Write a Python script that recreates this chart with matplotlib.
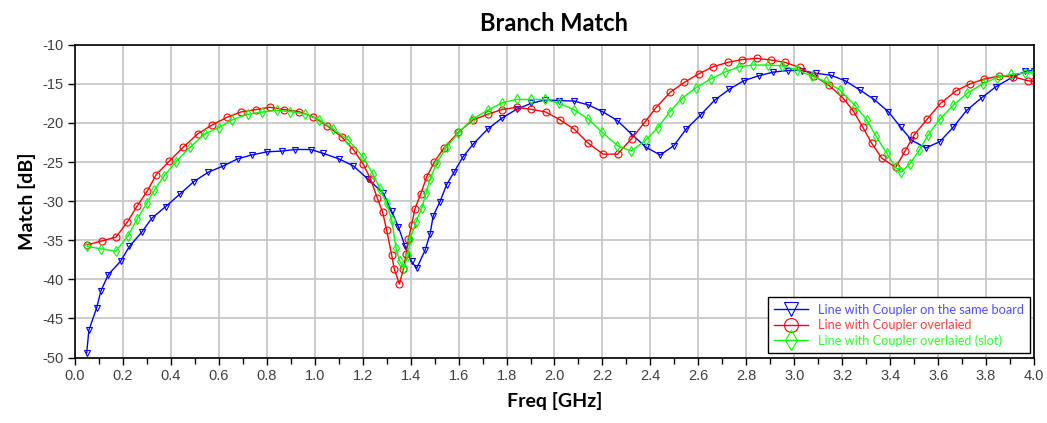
import numpy as np
import matplotlib
matplotlib.use("Agg")
from matplotlib import pyplot as plt
from matplotlib.ticker import MultipleLocator

plt.rcParams["axes.unicode_minus"] = False

# Freq [GHz] / Match [dB]
blue_f = [0.049, 0.058, 0.09, 0.108, 0.139, 0.19, 0.227, 0.278, 0.32, 0.378, 0.438, 0.496,
          0.556, 0.619, 0.678, 0.737, 0.8, 0.862, 0.918, 0.983, 1.036, 1.101, 1.161, 1.223,
          1.286, 1.321, 1.349, 1.377, 1.404, 1.425, 1.46, 1.481, 1.494, 1.522, 1.55, 1.581,
          1.617, 1.661, 1.721, 1.78, 1.842, 1.902, 1.961, 2.02, 2.081, 2.141, 2.2, 2.262,
          2.322, 2.381, 2.441, 2.498, 2.549, 2.609, 2.669, 2.729, 2.79, 2.853, 2.913, 2.973,
          3.031, 3.091, 3.152, 3.212, 3.274, 3.333, 3.392, 3.444, 3.489, 3.549, 3.607, 3.663,
          3.719, 3.781, 3.84, 3.907, 3.963, 4.0]
blue_db = [-49.4, -46.5, -43.7, -41.5, -39.4, -37.7, -35.8, -34.0, -32.2, -30.7, -29.1, -27.5,
           -26.3, -25.5, -24.6, -24.1, -23.7, -23.6, -23.4, -23.4, -23.9, -24.6, -25.5, -27.2,
           -29.0, -31.3, -33.3, -35.8, -37.7, -38.6, -36.3, -34.2, -31.9, -30.1, -27.9, -26.3,
           -24.4, -22.7, -20.8, -19.4, -18.26, -17.5, -17.06, -17.15, -17.2, -17.7, -18.55, -19.7,
           -21.45, -23.1, -24.1, -22.9, -20.8, -19.0, -17.06, -15.7, -14.6, -13.96, -13.5, -13.3,
           -13.3, -13.66, -13.9, -14.6, -15.8, -17.0, -18.55, -20.55, -22.2, -23.2, -22.4, -20.55,
           -18.4, -16.8, -15.4, -14.2, -13.4, -13.3]

red_f = [0.051, 0.111, 0.171, 0.218, 0.26, 0.302, 0.339, 0.393, 0.452, 0.512, 0.57, 0.633,
         0.692, 0.754, 0.813, 0.872, 0.934, 0.992, 1.053, 1.113, 1.161, 1.203, 1.233, 1.261,
         1.283, 1.3, 1.321, 1.332, 1.353, 1.37, 1.381, 1.391, 1.404, 1.418, 1.442, 1.467,
         1.499, 1.539, 1.599, 1.661, 1.721, 1.78, 1.842, 1.902, 1.963, 2.023, 2.082, 2.141,
         2.203, 2.263, 2.322, 2.377, 2.422, 2.482, 2.542, 2.603, 2.663, 2.723, 2.784, 2.844,
         2.904, 2.962, 3.022, 3.083, 3.143, 3.203, 3.247, 3.286, 3.323, 3.365, 3.423, 3.462,
         3.501, 3.555, 3.61, 3.675, 3.733, 3.792, 3.854, 3.914, 3.974, 4.0]
red_db = [-35.6, -35.1, -34.6, -32.7, -30.6, -28.7, -26.6, -24.9, -23.1, -21.4, -20.3, -19.3,
          -18.6, -18.3, -18.0, -18.3, -18.55, -19.2, -20.4, -21.8, -23.4, -25.3, -27.2, -29.6,
          -31.4, -33.7, -36.9, -38.7, -40.6, -38.7, -36.7, -34.9, -33.0, -31.0, -29.1, -26.9,
          -25.0, -23.2, -21.2, -19.6, -18.9, -18.3, -18.0, -18.26, -18.6, -19.6, -20.8, -22.6,
          -24.0, -24.0, -22.0, -19.9, -18.1, -16.1, -14.8, -13.7, -12.8, -12.26, -11.9, -11.74,
          -11.96, -12.26, -12.9, -14.0, -15.15, -16.8, -18.5, -20.55, -22.6, -24.5, -25.7, -23.6,
          -21.5, -19.5, -17.5, -15.9, -15.0, -14.4, -14.0, -14.1, -14.6, -14.7]

green_f = [0.051, 0.108, 0.17, 0.22, 0.259, 0.299, 0.331, 0.371, 0.42, 0.48, 0.542, 0.6,
           0.656, 0.72, 0.781, 0.841, 0.897, 0.96, 1.019, 1.078, 1.14, 1.2, 1.242, 1.272,
           1.3, 1.321, 1.339, 1.355, 1.372, 1.39, 1.397, 1.422, 1.446, 1.464, 1.481, 1.509,
           1.55, 1.599, 1.657, 1.721, 1.783, 1.842, 1.902, 1.961, 2.02, 2.081, 2.141, 2.199,
           2.262, 2.32, 2.381, 2.431, 2.482, 2.53, 2.59, 2.651, 2.711, 2.771, 2.829, 2.889,
           2.95, 3.01, 3.072, 3.131, 3.191, 3.254, 3.302, 3.341, 3.386, 3.423, 3.446, 3.483,
           3.522, 3.559, 3.608, 3.664, 3.722, 3.786, 3.845, 3.903, 3.963, 4.0]
green_db = [-35.8, -36.1, -36.4, -34.5, -32.3, -30.3, -28.6, -26.8, -25.0, -23.1, -21.4, -20.6,
            -19.6, -18.9, -18.6, -18.4, -18.55, -18.85, -19.6, -20.8, -22.2, -24.3, -26.5, -28.4,
            -30.3, -32.4, -36.0, -37.7, -38.55, -36.85, -34.9, -32.7, -30.9, -29.0, -27.2, -25.1,
            -23.1, -21.3, -19.5, -18.4, -17.4, -17.0, -17.0, -17.0, -17.5, -18.3, -19.5, -21.2,
            -22.9, -23.6, -22.2, -20.6, -18.55, -16.9, -15.5, -14.4, -13.5, -12.8, -12.6, -12.6,
            -12.7, -13.2, -14.0, -14.7, -15.8, -17.8, -19.6, -21.7, -23.9, -25.7, -26.3, -25.2,
            -23.45, -21.5, -19.5, -17.7, -16.2, -15.0, -14.2, -13.8, -13.6, -13.45]

labels = ["Line with Coupler on the same board",
          "Line with Coupler overlaied",
          "Line with Coupler overlaied (slot)"]

fig = plt.figure(figsize=(10.47, 4.23), dpi=100)
ax = fig.add_axes([0.0716, 0.1548, 0.9160, 0.7395])

ax.plot(blue_f, blue_db, color="#0000ff", lw=1.0, marker="v", ms=5, mfc="none",
        mew=0.8, label=labels[0])
ax.plot(red_f, red_db, color="#ff0000", lw=1.0, marker="o", ms=5, mfc="none",
        mew=0.8, label=labels[1])
ax.plot(green_f, green_db, color="#00ff00", lw=1.0, marker="d", ms=5, mfc="none",
        mew=0.8, label=labels[2])

ax.set_xlim(0, 4.0)
ax.set_ylim(-50, -10)
ax.xaxis.set_minor_locator(MultipleLocator(0.1))
ax.yaxis.set_major_locator(MultipleLocator(5))
ax.set_xticks(np.arange(0, 4.01, 0.2))
ax.set_xticklabels([f"{v:.1f}" for v in np.arange(0, 4.01, 0.2)])
ax.grid(True, which="major", color="#c8c8c8", lw=1.3)
ax.set_axisbelow(True)
ax.tick_params(axis="both", which="major", direction="out", length=5, width=1,
               labelsize=10.5, labelcolor="#404040", color="black")
ax.tick_params(axis="x", which="minor", direction="out", length=4, width=1)
for lbl in ax.get_xticklabels() + ax.get_yticklabels():
    lbl.set_family("Liberation Sans")
for s in ax.spines.values():
    s.set_linewidth(1.2)

ax.set_title("Branch Match", family="Lato", fontweight="bold", fontsize=17, pad=10)
ax.set_xlabel("Freq [GHz]", family="Lato", fontweight="bold", fontsize=14, labelpad=6)
ax.set_ylabel("Match [dB]", family="Lato", fontweight="bold", fontsize=14, labelpad=4)

leg = ax.legend(loc="lower right", bbox_to_anchor=(0.996, 0.014), borderaxespad=0,
                prop={"family": "Lato", "size": 9.2}, markerscale=2.0, handlelength=2.6,
                fancybox=False, framealpha=1, edgecolor="black", labelspacing=0.25,
                borderpad=0.5)
leg.get_frame().set_linewidth(1.0)
for txt, c in zip(leg.get_texts(), ["#5050ff", "#ff4040", "#30ff30"]):
    txt.set_color(c)

fig.savefig("out.png", dpi=100)
